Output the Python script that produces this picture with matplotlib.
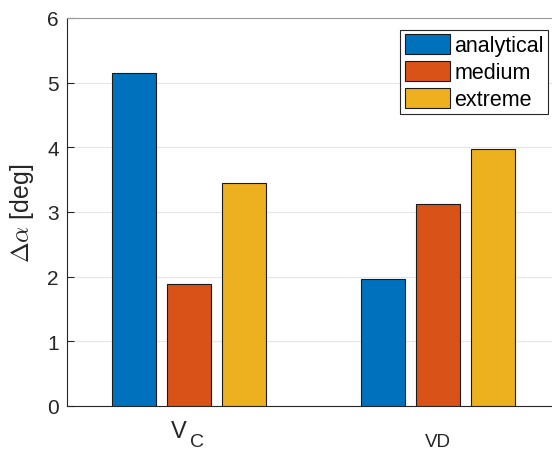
import numpy as np
import matplotlib
matplotlib.use("Agg")
import matplotlib.pyplot as plt

plt.rcParams["font.family"] = ["Liberation Sans", "DejaVu Sans"]
plt.rcParams["mathtext.fontset"] = "cm"

# angle error per configuration and model
groups = ["VC", "VD"]
analytical = [5.15, 1.96]
medium = [1.89, 3.12]
extreme = [3.45, 3.97]
series_names = ["analytical", "medium", "extreme"]
colors = ["#0072BD", "#D95319", "#EDB120"]
ink = "#262626"

fig = plt.figure(figsize=(5.52, 4.52), dpi=100)
ax = fig.add_axes([67 / 552, 45 / 452, (560 - 67) / 552, (407 - 19) / 452])

x = np.arange(1, len(groups) + 1)
width = 0.177
offset = 0.22
for i, (vals, name, c) in enumerate(zip([analytical, medium, extreme], series_names, colors)):
    ax.bar(x + (i - 1) * offset, vals, width, color=c, edgecolor="#1a1a1a",
           linewidth=0.8, label=name, zorder=3)

ax.set_xlim(0.51, 2.49)
ax.set_ylim(0, 6)
ax.set_yticks(range(0, 7))
ax.set_xticks(x)
ax.set_xticklabels([])
ax.tick_params(axis="both", direction="in", length=5, width=0.8,
               colors=ink, labelsize=15, pad=6)
ax.grid(axis="y", color="#e6e6e6", linewidth=0.8, zorder=0)
ax.set_axisbelow(True)
for side in ["left", "bottom", "top", "right"]:
    ax.spines[side].set_color(ink)
    ax.spines[side].set_linewidth(0.8)
ax.spines["top"].set_color("#9a9a9a")

# group labels: V with subscript C, and a smaller VD
axis_pos = ("data", "axes fraction")
ax.annotate("V", xy=(x[0], 0), xycoords=axis_pos, xytext=(-7.2, -22.3),
            textcoords="offset points", ha="center", va="baseline",
            fontsize=17, color=ink, annotation_clip=False)
ax.annotate("C", xy=(x[0], 0), xycoords=axis_pos, xytext=(5.4, -29.0),
            textcoords="offset points", ha="center", va="baseline",
            fontsize=14, color=ink, annotation_clip=False)
ax.annotate(groups[1], xy=(x[1], 0), xycoords=axis_pos, xytext=(0.3, -29.0),
            textcoords="offset points", ha="center", va="baseline",
            fontsize=13.5, color=ink, annotation_clip=False)

ax.set_ylabel("$\\Delta\\alpha$ [deg]", fontsize=18, color=ink, labelpad=8)

leg = ax.legend(loc="upper right", bbox_to_anchor=((548 - 67) / 493, 1 - 12 / 388),
                fontsize=15.5, handlelength=2.1, handleheight=1.02,
                handletextpad=0.2, labelspacing=0.22, borderpad=0.2,
                borderaxespad=0, fancybox=False, framealpha=1)
leg.get_frame().set_edgecolor(ink)
leg.get_frame().set_linewidth(0.8)

fig.savefig("out.png", dpi=100)
